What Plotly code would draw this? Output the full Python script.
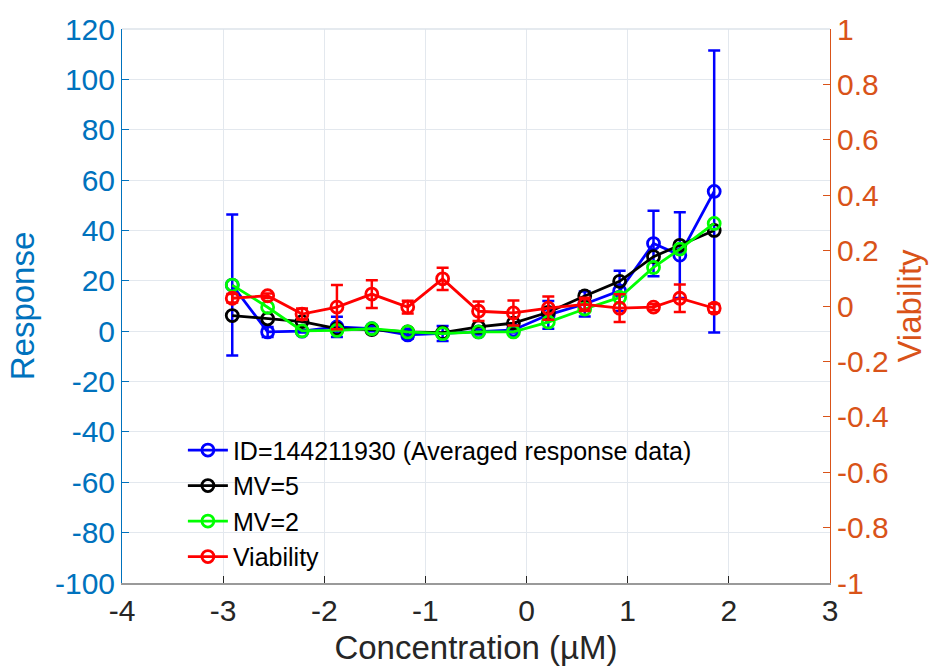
import plotly.graph_objects as go

# Data (log10 concentration, µM)
conc = [-2.91, -2.56, -2.22, -1.875, -1.53, -1.175, -0.83, -0.475, -0.13, 0.215, 0.575, 0.92, 1.255, 1.515, 1.855]

resp_avg = [18.3, -0.3, 0.0, 1.7, 1.0, -1.5, -0.9, -0.3, 0.5, 6.5, 10.8, 16.0, 34.8, 30.2, 55.5]
resp_err = [28.0, 2.0, 0.5, 4.0, 1.0, 1.5, 3.0, 1.0, 1.0, 5.5, 5.0, 8.0, 13.0, 17.0, 56.0]

mv5 = [6.2, 4.9, 3.8, 1.0, 0.6, -0.3, -0.6, 1.7, 3.2, 7.5, 14.0, 19.8, 29.6, 34.1, 40.0]
mv2 = [18.3, 9.5, 0.1, 0.3, 1.0, -0.3, -1.0, -0.3, -0.3, 3.6, 8.8, 13.4, 25.3, 32.6, 42.8]

viab = [0.028, 0.037, -0.029, -0.004, 0.043, -0.004, 0.098, -0.019, -0.025, -0.008, 0.006, -0.008, -0.004, 0.028, -0.008]
viab_err = [0.015, 0.008, 0.02, 0.08, 0.05, 0.023, 0.04, 0.035, 0.045, 0.042, 0.024, 0.05, 0.01, 0.05, 0.015]

x_ticks = [-4, -3, -2, -1, 0, 1, 2, 3]
y_ticks = [-100, -80, -60, -40, -20, 0, 20, 40, 60, 80, 100, 120]
y2_ticks = [-1, -0.8, -0.6, -0.4, -0.2, 0, 0.2, 0.4, 0.6, 0.8, 1]

FONT = "Liberation Sans, Arial, Helvetica, sans-serif"
BLUE_AX = "#0072BD"
ORANGE_AX = "#D95319"

fig = go.Figure()

def add(name, y, color, err=None, yaxis="y"):
    kw = {}
    if err is not None:
        kw["error_y"] = dict(type="data", array=err, visible=True, color=color,
                             thickness=2.5, width=6)
    fig.add_trace(go.Scatter(
        x=conc, y=y, name=name, mode="lines+markers", yaxis=yaxis,
        line=dict(color=color, width=2.8),
        marker=dict(symbol="circle-open", size=12, color=color, line=dict(width=2.8, color=color)),
        **kw))

add("ID=144211930 (Averaged response data)", resp_avg, "#0000FF", resp_err)
add("MV=5", mv5, "#000000")
add("MV=2", mv2, "#00FF00")
add("Viability", viab, "#FF0000", viab_err, yaxis="y2")

fig.update_layout(
    width=941, height=672,
    margin=dict(l=122, r=111, t=22, b=85),
    paper_bgcolor="white", plot_bgcolor="white",
    font=dict(family=FONT, size=30, color="#262626"),
    showlegend=True,
    legend=dict(x=0.086, y=0.281, xanchor="left", yanchor="top",
                bgcolor="rgba(0,0,0,0)", font=dict(size=25, color="#000000"),
                tracegroupgap=0, itemwidth=40),
    xaxis=dict(range=[-4, 3], tickvals=x_ticks, ticktext=[str(v) for v in x_ticks],
               showgrid=True, gridcolor="#E3E8EE", gridwidth=1,
               ticks="inside", ticklen=7, tickcolor="#262626",
               showline=True, linecolor="#9A9A9A", linewidth=2, mirror=False,
               zeroline=False, tickfont=dict(size=30, color="#262626"),
               title=dict(text="Concentration (µM)", font=dict(size=33, color="#262626"), standoff=10)),
    yaxis=dict(range=[-100, 120], tickvals=y_ticks, ticktext=[str(v) for v in y_ticks],
               showgrid=True, gridcolor="#E3E8EE", gridwidth=1,
               ticks="inside", ticklen=7, tickcolor=BLUE_AX,
               showline=True, linecolor=BLUE_AX, linewidth=1,
               zeroline=False, tickfont=dict(size=30, color=BLUE_AX),
               title=dict(text="Response", font=dict(size=33, color=BLUE_AX), standoff=10)),
    yaxis2=dict(range=[-1, 1], tickvals=y2_ticks, ticktext=[("%g" % v) for v in y2_ticks],
                overlaying="y", side="right", showgrid=False,
                ticks="inside", ticklen=7, tickcolor=ORANGE_AX,
                showline=True, linecolor=ORANGE_AX, linewidth=1,
                zeroline=False, tickfont=dict(size=30, color=ORANGE_AX),
                title=dict(text="Viability", font=dict(size=33, color=ORANGE_AX), standoff=10)),
)

# top border line (light)
fig.add_shape(type="line", xref="paper", yref="paper", x0=0, x1=1, y0=1, y1=1,
              line=dict(color="#DDE3EA", width=1.5))

fig.write_html("out.html")
